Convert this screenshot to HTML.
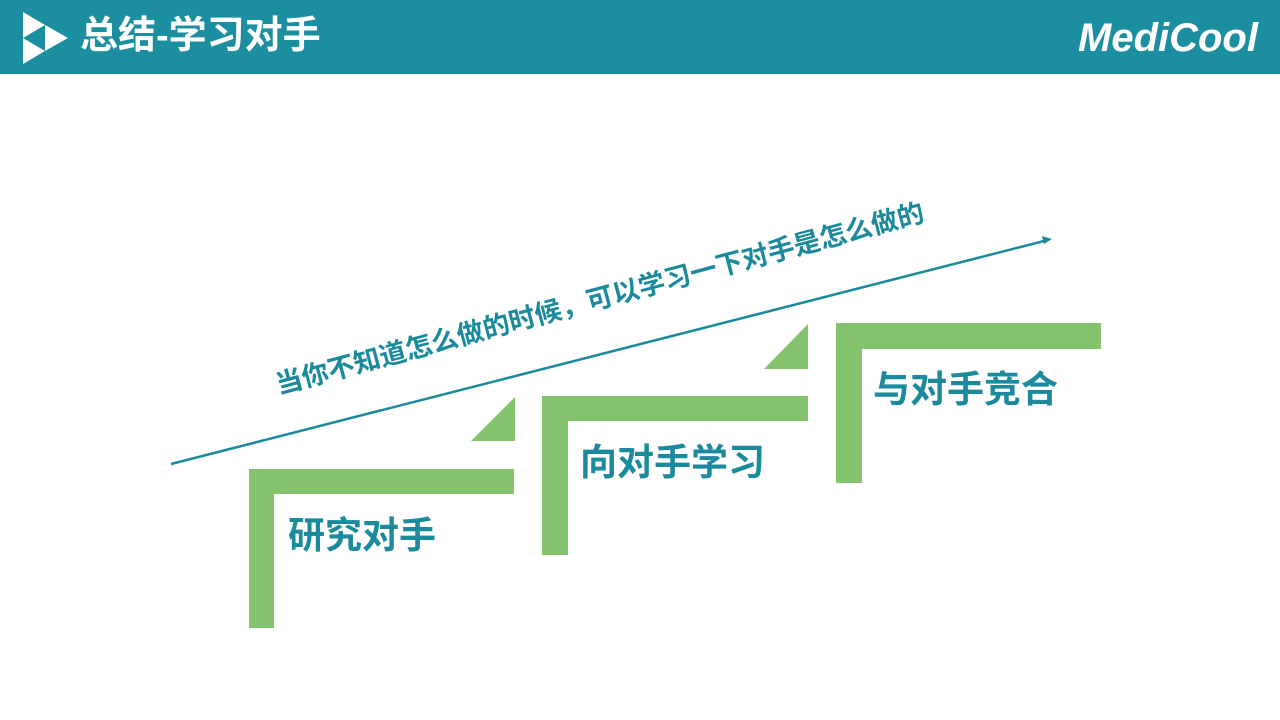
<!DOCTYPE html>
<html><head><meta charset="utf-8"><style>
body{margin:0;width:1280px;height:720px;position:relative;background:#fff;overflow:hidden;font-family:"Liberation Sans","Noto Sans CJK SC",sans-serif}
.g{position:absolute;background:#86c36f}
.lbl{position:absolute;color:#1b8a9c;font-weight:bold;font-size:37px;line-height:1;white-space:nowrap}
</style></head><body>
<div style="position:absolute;left:0;top:0;width:1280px;height:74px;background:#1b8fa0"></div>
<svg style="position:absolute;left:0;top:0" width="80" height="74"><polygon points="23,12 45,25 23,38" fill="#fff"/><polygon points="45,25 68,38 45,51" fill="#fff"/><polygon points="23,38 45,51 23,64" fill="#fff"/></svg>
<div style="position:absolute;left:80px;top:14px;color:#fff;font-weight:bold;font-size:38px;line-height:44px">总结-学习对手</div>
<div style="position:absolute;left:1078px;top:15px;color:#fff;font-weight:bold;font-style:italic;font-size:40px;line-height:46px">MediCool</div>

<svg style="position:absolute;left:0;top:0" width="1280" height="720">
<line x1="171" y1="464" x2="1044" y2="241" stroke="#1b8a9c" stroke-width="2.5"/>
<polygon points="1052,239 1042,236 1044,244" fill="#1b8a9c"/>
<polygon points="515,397 515,441 471,441" fill="#86c36f"/>
<polygon points="808,324 808,369 764,369" fill="#86c36f"/>
</svg>
<div style="position:absolute;left:280px;top:372px;transform-origin:0 100%;transform:rotate(-15deg);color:#1b8a9c;font-weight:bold;font-size:26.8px;line-height:27px;white-space:nowrap">当你不知道怎么做的时候，可以学习一下对手是怎么做的</div>

<div class="g" style="left:249px;top:469px;width:25px;height:159px"></div>
<div class="g" style="left:249px;top:469px;width:265px;height:25px"></div>
<div class="g" style="left:542px;top:396px;width:26px;height:159px"></div>
<div class="g" style="left:542px;top:396px;width:266px;height:25px"></div>
<div class="g" style="left:836px;top:323px;width:26px;height:160px"></div>
<div class="g" style="left:836px;top:323px;width:265px;height:26px"></div>

<div class="lbl" style="left:288px;top:517px">研究对手</div>
<div class="lbl" style="left:580px;top:444px">向对手学习</div>
<div class="lbl" style="left:873px;top:371px">与对手竞合</div>
</body></html>
